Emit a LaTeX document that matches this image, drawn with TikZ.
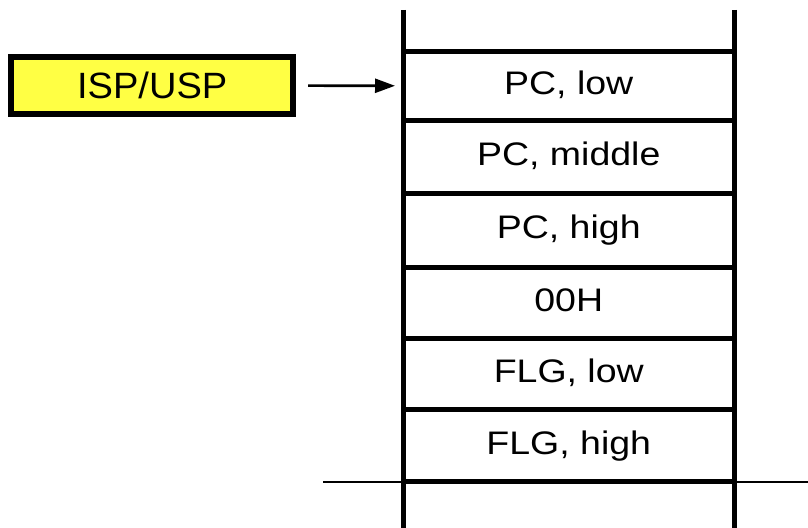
\documentclass[tikz,border=0pt]{standalone}
\usepackage{fontspec}
\setmainfont{Liberation Sans}
\newfontfamily\cellfont[FakeStretch=1.15]{Liberation Sans}
\newfontfamily\ispfont[FakeStretch=1.04]{Liberation Sans}
\usetikzlibrary{arrows.meta}
\definecolor{ispyellow}{RGB}{255,255,68}

\begin{document}
\begin{tikzpicture}[x=0.5pt, y=-0.5pt,
  wall/.style={line width=2.5pt},
  cell/.style={font=\cellfont\fontsize{16.3}{18}\selectfont, minimum width=165.75pt,
    inner sep=0pt, outer sep=0pt, text height=11.7pt, text depth=3.5pt},
  spbox/.style={draw, fill=ispyellow, line width=2.85pt, minimum width=141pt,
    minimum height=28.3pt, inner sep=0pt, font=\ispfont\fontsize{18.3}{20}\selectfont,
    text height=12.85pt, text depth=0pt},
  ptr/.style={line width=1.3pt, -{Triangle[length=10pt, width=7pt]}}]
  \useasboundingbox (0,0) rectangle (808,528);
  % stack walls, open at top and bottom
  \coordinate (LT) at (403,10);
  \coordinate (LB) at (403,528);
  \coordinate (RT) at (734.5,10);
  \coordinate (RB) at (734.5,528);
  \draw[wall] (LT)--(LB);
  \draw[wall] (RT)--(RB);
  % slot borders
  \foreach \y in {51.5,120.5,193.5,268,339,410,482}
    \draw[wall] (403,\y)--(734.5,\y);
  % thin marker line at the last slot
  \coordinate (ML) at (323,482);
  \coordinate (MR) at (808,482);
  \draw[line width=1.2pt] (ML)--(MR);
  % slot contents
  \node[cell] (pcl) at (568.75,86) {PC, low};
  \node[cell] (pcm) at (568.75,157) {PC, middle};
  \node[cell] (pch) at (568.75,230.75) {PC, high};
  \node[cell] (zero) at (568.75,303.5) {00H};
  \node[cell] (flgl) at (568.75,374.5) {FLG, low};
  \node[cell] (flgh) at (568.75,446) {FLG, high};
  % stack pointer
  \node[spbox] (sp) at (152.2,85.5) {ISP/USP};
  \draw[ptr, shorten <=6pt, shorten >=4pt] (sp)--(pcl);
\end{tikzpicture}
\end{document}
